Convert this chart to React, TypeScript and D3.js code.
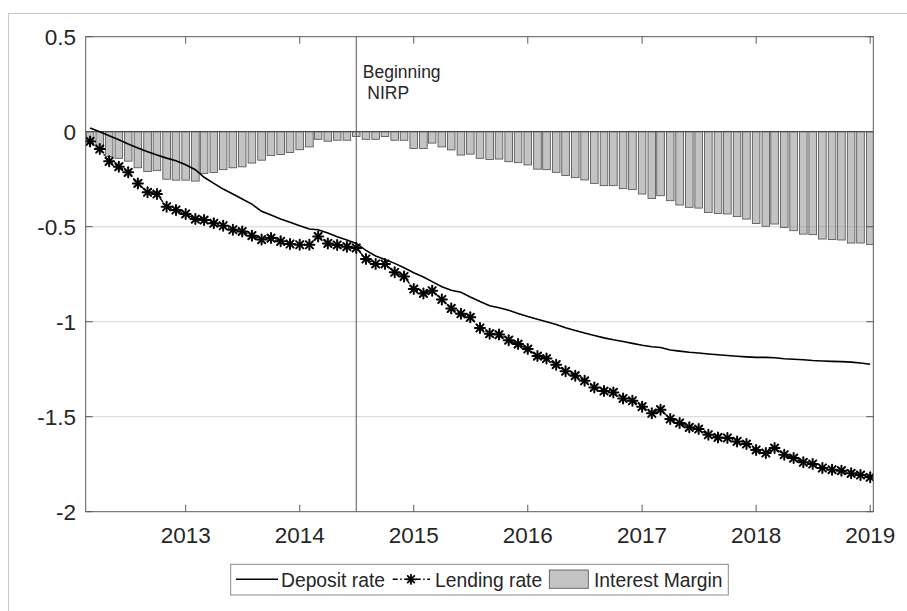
import React from "react";
import * as d3 from "d3";

// Monthly observations: March 2012 .. January 2019
const months: Date[] = d3.timeMonth.range(new Date(2012, 2, 1), new Date(2019, 1, 1));

const depositRate = [
  0.019, 0.0, -0.021, -0.042, -0.065, -0.086, -0.105, -0.123, -0.139, -0.153,
  -0.174, -0.2, -0.24, -0.272, -0.302, -0.328, -0.354, -0.381, -0.419, -0.439,
  -0.46, -0.477, -0.495, -0.512, -0.516, -0.533, -0.553, -0.57, -0.588,
  -0.625, -0.654, -0.673, -0.693, -0.716, -0.742, -0.765, -0.789, -0.816, -0.835,
  -0.845, -0.87, -0.894, -0.916, -0.927, -0.94, -0.957, -0.973, -0.987, -1.0,
  -1.015, -1.032, -1.046, -1.06, -1.073,
  -1.085, -1.095, -1.104, -1.114, -1.124, -1.132, -1.136, -1.149, -1.155, -1.161,
  -1.165, -1.17, -1.174, -1.178, -1.182, -1.185, -1.188, -1.188, -1.19, -1.195,
  -1.198, -1.2, -1.204, -1.207, -1.209, -1.21, -1.213, -1.217, -1.224,
];

const lendingRate = [
  -0.051, -0.091, -0.156, -0.184, -0.214, -0.272, -0.319, -0.328, -0.395, -0.412,
  -0.433, -0.46, -0.465, -0.482, -0.495, -0.516, -0.525, -0.547, -0.568, -0.56,
  -0.577, -0.591, -0.595, -0.595, -0.551, -0.588, -0.596, -0.605, -0.612, -0.67,
  -0.696, -0.696, -0.74, -0.762, -0.828, -0.851, -0.837, -0.883, -0.93, -0.958,
  -0.977, -1.033, -1.063, -1.068, -1.097, -1.118, -1.144, -1.181, -1.194, -1.226,
  -1.261, -1.284, -1.311, -1.346, -1.365, -1.372, -1.404, -1.416, -1.447, -1.482,
  -1.463, -1.512, -1.533, -1.556, -1.565, -1.595, -1.609, -1.612, -1.63, -1.644,
  -1.675, -1.691, -1.665, -1.7, -1.718, -1.74, -1.749, -1.77, -1.779, -1.784,
  -1.798, -1.807, -1.819,
];

const interestMargin = [
  -0.05, -0.085, -0.13, -0.14, -0.155, -0.19, -0.21, -0.205, -0.25, -0.255,
  -0.255, -0.26, -0.22, -0.215, -0.2, -0.19, -0.185, -0.165, -0.15, -0.125,
  -0.12, -0.11, -0.095, -0.08, -0.04, -0.05, -0.045, -0.045, -0.025, -0.04,
  -0.04, -0.025, -0.045, -0.045, -0.088, -0.088, -0.06, -0.08, -0.096, -0.123,
  -0.118, -0.14, -0.146, -0.144, -0.158, -0.163, -0.175, -0.197, -0.2, -0.214,
  -0.231, -0.242, -0.254, -0.272, -0.284, -0.284, -0.3, -0.305, -0.328, -0.351,
  -0.337, -0.363, -0.386, -0.398, -0.402, -0.425, -0.43, -0.433, -0.447, -0.46,
  -0.483, -0.498, -0.486, -0.504, -0.521, -0.539, -0.542, -0.565, -0.568, -0.57,
  -0.586, -0.586, -0.593,
];

const yTicks = [0.5, 0, -0.5, -1, -1.5, -2];
const yTickLabels = ["0.5", "0", "-0.5", "-1", "-1.5", "-2"];
const xTickYears = [2013, 2014, 2015, 2016, 2017, 2018, 2019];
const nirpDate = new Date(2014, 6, 1);
const seriesNames = ["Deposit rate", "Lending rate", "Interest Margin"];

const W = 907;
const H = 611;
const L = 85.7;
const R = 873.3;
const T = 36.7;
const B = 511.7;
const FONT = "'Liberation Sans', Arial, Helvetica, sans-serif";

function Star({ cx, cy, r, sw }: { cx: number; cy: number; r: number; sw: number }) {
  const d = r * 0.72;
  return (
    <g stroke="#000" strokeWidth={sw} strokeLinecap="round">
      <line x1={cx - r} y1={cy} x2={cx + r} y2={cy} />
      <line x1={cx} y1={cy - r} x2={cx} y2={cy + r} />
      <line x1={cx - d} y1={cy - d} x2={cx + d} y2={cy + d} />
      <line x1={cx - d} y1={cy + d} x2={cx + d} y2={cy - d} />
      <circle cx={cx} cy={cy} r={r * 0.35} fill="#000" stroke="none" />
    </g>
  );
}

export default function App() {
  const x = d3
    .scaleTime()
    .domain([new Date(2012, 1, 16), new Date(2019, 0, 11)])
    .range([L, R]);
  const y = d3.scaleLinear().domain([-2, 0.5]).range([B, T]);

  const barW = 0.8 * ((x(months[months.length - 1]) - x(months[0])) / (months.length - 1));

  const depLine = d3
    .line<number>()
    .x((_, i) => x(months[i]))
    .y((d) => y(d));
  const lendLine = d3
    .line<number>()
    .x((_, i) => x(months[i]))
    .y((d) => y(d));

  const axisColor = "#5a5a5a";
  const textColor = "#262626";
  const tickLen = 7;

  return (
    <svg
      width={W}
      height={H}
      style={{ position: "absolute", left: 0, top: 0, background: "#fff" }}
      fontFamily={FONT}
    >
      <defs>
        <clipPath id="plotclip">
          <rect x={L} y={T} width={R - L} height={B - T} />
        </clipPath>
      </defs>
      {/* outer frame */}
      <rect x={8.5} y={13.5} width={920} height={620} fill="#fff" stroke="#c8c8c8" strokeWidth={1} />

      {/* bars */}
      <g clipPath="url(#plotclip)">
        {interestMargin.map((v, i) => (
          <rect
            key={i}
            x={x(months[i]) - barW / 2}
            y={y(0)}
            width={barW}
            height={y(v) - y(0)}
            fill="#c3c3c3"
            stroke="#4d4d4d"
            strokeWidth={0.8}
          />
        ))}
      </g>

      {/* horizontal grid */}
      {yTicks
        .filter((t) => t !== 0.5 && t !== -2 && t !== 0)
        .map((t) => (
          <line key={t} x1={L} x2={R} y1={y(t)} y2={y(t)} stroke="#888" strokeOpacity={0.35} strokeWidth={1} />
        ))}
      {/* zero baseline */}
      <line x1={L} x2={R} y1={y(0)} y2={y(0)} stroke="#3c3c3c" strokeWidth={1} />

      {/* NIRP vertical line */}
      <line x1={x(nirpDate)} x2={x(nirpDate)} y1={T} y2={B} stroke="#555" strokeWidth={1} />
      <text x={x(nirpDate) + 6.5} y={77.7} fontSize={17.5} fill={textColor}>
        Beginning
      </text>
      <text x={x(nirpDate) + 11} y={99.3} fontSize={17.5} fill={textColor}>
        NIRP
      </text>

      {/* lines */}
      <g clipPath="url(#plotclip)">
        <path d={depLine(depositRate) || ""} fill="none" stroke="#000" strokeWidth={1.6} />
        <path
          d={lendLine(lendingRate) || ""}
          fill="none"
          stroke="#000"
          strokeWidth={1.4}
          strokeDasharray="5,2.5,1.5,2.5"
        />
        {lendingRate.map((v, i) => (
          <Star key={i} cx={x(months[i])} cy={y(v)} r={5} sw={2} />
        ))}
      </g>

      {/* axes box */}
      <rect x={L} y={T} width={R - L} height={B - T} fill="none" stroke={axisColor} strokeWidth={1} />
      {yTicks.map((t, i) => (
        <g key={t}>
          <line x1={L} x2={L + tickLen} y1={y(t)} y2={y(t)} stroke={axisColor} />
          <line x1={R} x2={R - tickLen} y1={y(t)} y2={y(t)} stroke={axisColor} />
          <text x={76} y={y(t)} dy="0.36em" textAnchor="end" fontSize={22.5} fill={textColor}>
            {yTickLabels[i]}
          </text>
        </g>
      ))}
      {xTickYears.map((yr) => {
        const xx = x(new Date(yr, 0, 1));
        return (
          <g key={yr}>
            <line x1={xx} x2={xx} y1={B} y2={B - tickLen} stroke={axisColor} />
            <line x1={xx} x2={xx} y1={T} y2={T + tickLen} stroke={axisColor} />
            <text x={xx} y={543} textAnchor="middle" fontSize={22.5} fill={textColor}>
              {yr}
            </text>
          </g>
        );
      })}

      {/* legend */}
      <g>
        <rect x={230.7} y={564.3} width={497.6} height={30.7} fill="#fff" stroke="#8a8a8a" strokeWidth={1} />
        <line x1={236} x2={278} y1={579.3} y2={579.3} stroke="#000" strokeWidth={1.6} />
        <text x={281} y={586.7} fontSize={19.3} fill={textColor}>
          {seriesNames[0]}
        </text>
        <line
          x1={392.7}
          x2={430}
          y1={579.3}
          y2={579.3}
          stroke="#000"
          strokeWidth={1.4}
          strokeDasharray="5,2.5,1.5,2.5"
        />
        <Star cx={411} cy={579.3} r={4.6} sw={1.8} />
        <text x={435} y={586.7} fontSize={19.3} fill={textColor}>
          {seriesNames[1]}
        </text>
        <rect x={549.3} y={570} width={39} height={18.3} fill="#c3c3c3" stroke="#4d4d4d" strokeWidth={0.8} />
        <text x={594} y={586.7} fontSize={19.3} fill={textColor}>
          {seriesNames[2]}
        </text>
      </g>
    </svg>
  );
}
